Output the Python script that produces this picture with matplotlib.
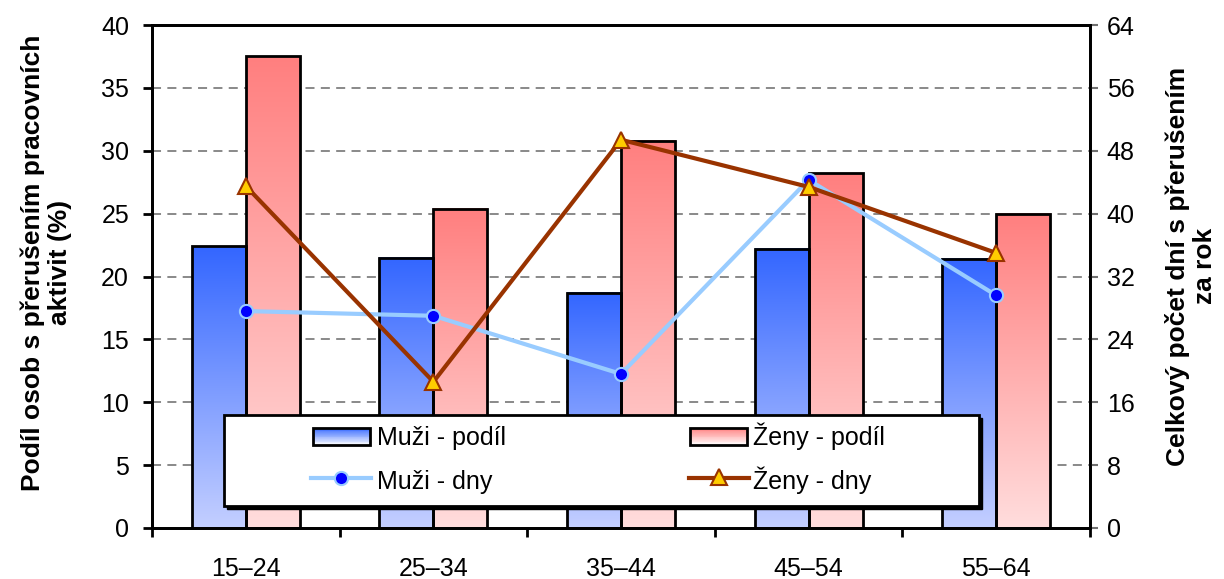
import matplotlib.pyplot as plt
import numpy as np
from matplotlib.patches import Rectangle
from matplotlib.lines import Line2D
from matplotlib.colors import LinearSegmentedColormap

plt.rcParams['font.family'] = ['Liberation Sans', 'DejaVu Sans']

categories = ["15–24", "25–34", "35–44", "45–54", "55–64"]
muzi_podil = [22.4, 21.5, 18.7, 22.2, 21.4]
zeny_podil = [37.5, 25.4, 30.8, 28.2, 25.0]
muzi_dny = [27.6, 27.0, 19.6, 44.3, 29.6]
zeny_dny = [43.5, 18.6, 49.4, 43.4, 35.0]
legend_labels = ["Muži - podíl", "Ženy - podíl", "Muži - dny", "Ženy - dny"]

blue_top, blue_bottom = "#3366FF", "#C4CFFF"
red_top, red_bottom = "#FF7F7F", "#FFDDDD"

W, H = 1224, 579


def gradient_bars(ax, x, heights, width, top, bottom):
    cmap = LinearSegmentedColormap.from_list("g", [bottom, top])
    grad = np.linspace(1, 0, 256).reshape(-1, 1)
    bars = ax.bar(x, heights, width, facecolor="none", edgecolor="black",
                  linewidth=2, zorder=3)
    for rect in bars:
        x0, w, h = rect.get_x(), rect.get_width(), rect.get_height()
        ax.imshow(grad, cmap=cmap, extent=[x0, x0 + w, 0, h], aspect="auto",
                  zorder=2, interpolation="bicubic")
    return bars


def fx(px):
    return px / W


def fy(py):
    return 1 - py / H


fig = plt.figure(figsize=(12.24, 5.79), dpi=100)
ax = fig.add_axes([0.1242, 0.0881, 0.7663, 0.8687])
ax2 = ax.twinx()

x = np.arange(len(categories))
bw = 0.288
gradient_bars(ax, x - bw / 2, muzi_podil, bw, blue_top, blue_bottom)
gradient_bars(ax, x + bw / 2, zeny_podil, bw, red_top, red_bottom)

ax.set_xlim(-0.5, len(categories) - 0.5)
ax.set_ylim(0, 40)
ax.set_yticks(np.arange(0, 41, 5))
ax.yaxis.grid(True, linestyle=(0, (5, 3.5)), color="#808080", linewidth=1.3)
ax.set_axisbelow(True)

ax.set_xticks(x)
ax.set_xticklabels(categories)
ax.set_xticks(np.arange(-0.5, len(categories)), minor=True)
ax.tick_params(axis="x", which="major", length=0, pad=21, labelsize=18)
ax.tick_params(axis="x", which="minor", length=6.5, width=2, direction="out")
ax.tick_params(axis="y", length=6.5, width=2, direction="out", labelsize=18, pad=10)

for s in ax.spines.values():
    s.set_linewidth(2)
for s in ax2.spines.values():
    s.set_linewidth(2)

muzi_style = dict(color="#99CCFF", linewidth=3, marker="o", markersize=9.5,
                  markerfacecolor="#0000FF", markeredgecolor="#99CCFF",
                  markeredgewidth=1.5)
zeny_style = dict(color="#993300", linewidth=3, marker="^", markersize=11,
                  markerfacecolor="#FFCC00", markeredgecolor="#993300",
                  markeredgewidth=1.5)
ax2.plot(x, muzi_dny, zorder=3, **muzi_style)
ax2.plot(x, zeny_dny, zorder=4, **zeny_style)
ax2.set_ylim(0, 64)
ax2.set_yticks(np.arange(0, 65, 8))
ax2.tick_params(axis="y", length=6, width=1.5, color="#707070",
                direction="out", labelsize=18, pad=6)

ax.set_ylabel("Podíl osob s přerušením pracovních\naktivit (%)",
              fontsize=19, fontweight="bold", linespacing=1.15)
ax.yaxis.set_label_coords(-0.0853, 0.527)
ax2.set_ylabel("Celkový počet dní s přerušením\nza rok", fontsize=19,
               fontweight="bold", rotation=90, linespacing=1.15)
ax2.yaxis.set_label_coords(1.080, 0.521)

# legend drawn by hand so both rows line up like the original
box = (224, 415, 979, 506)
fig.patches.append(Rectangle((fx(box[0] + 3), fy(box[3] + 3)), fx(box[2] - box[0]),
                             (box[3] - box[1]) / H, transform=fig.transFigure,
                             facecolor="black", edgecolor="black", zorder=8))
fig.patches.append(Rectangle((fx(box[0]), fy(box[3])), fx(box[2] - box[0]),
                             (box[3] - box[1]) / H, transform=fig.transFigure,
                             facecolor="white", edgecolor="black", linewidth=2,
                             zorder=9))


def legend_gradient(x0, x1, y0, y1, top):
    cmap = LinearSegmentedColormap.from_list("g", ["#FFFFFF", top])
    n = 20
    for i in range(n):
        ya = y1 - (y1 - y0) * i / n
        fig.patches.append(Rectangle((fx(x0), fy(ya)), fx(x1 - x0),
                                     (y1 - y0) / n / H + 0.0005,
                                     transform=fig.transFigure,
                                     facecolor=cmap((i + 0.5) / n),
                                     edgecolor="none", zorder=10))
    fig.patches.append(Rectangle((fx(x0), fy(y1)), fx(x1 - x0), (y1 - y0) / H,
                                 transform=fig.transFigure, facecolor="none",
                                 edgecolor="black", linewidth=2, zorder=11))


legend_gradient(313, 370, 428, 445, blue_top)
legend_gradient(690, 747, 428, 445, red_top)
fig.lines.append(Line2D([fx(311), fx(371)], [fy(478)] * 2, transform=fig.transFigure,
                        zorder=10, **{k: v for k, v in muzi_style.items() if k != "marker"}))
fig.lines.append(Line2D([fx(341)], [fy(478)], transform=fig.transFigure, zorder=11,
                        linestyle="none", **{k: v for k, v in muzi_style.items()
                                             if k not in ("linewidth", "color")}))
fig.lines.append(Line2D([fx(689), fx(749)], [fy(478)] * 2, transform=fig.transFigure,
                        zorder=10, **{k: v for k, v in zeny_style.items() if k != "marker"}))
fig.lines.append(Line2D([fx(719)], [fy(477)], transform=fig.transFigure, zorder=11,
                        linestyle="none", **{k: v for k, v in zeny_style.items()
                                             if k not in ("linewidth", "color")}))

for (tx, ty), label in zip([(377, 445), (753, 445), (377, 489), (753, 489)], legend_labels):
    fig.text(fx(tx), fy(ty), label, fontsize=18, ha="left", va="baseline", zorder=12)

fig.savefig("out.png", dpi=100)
